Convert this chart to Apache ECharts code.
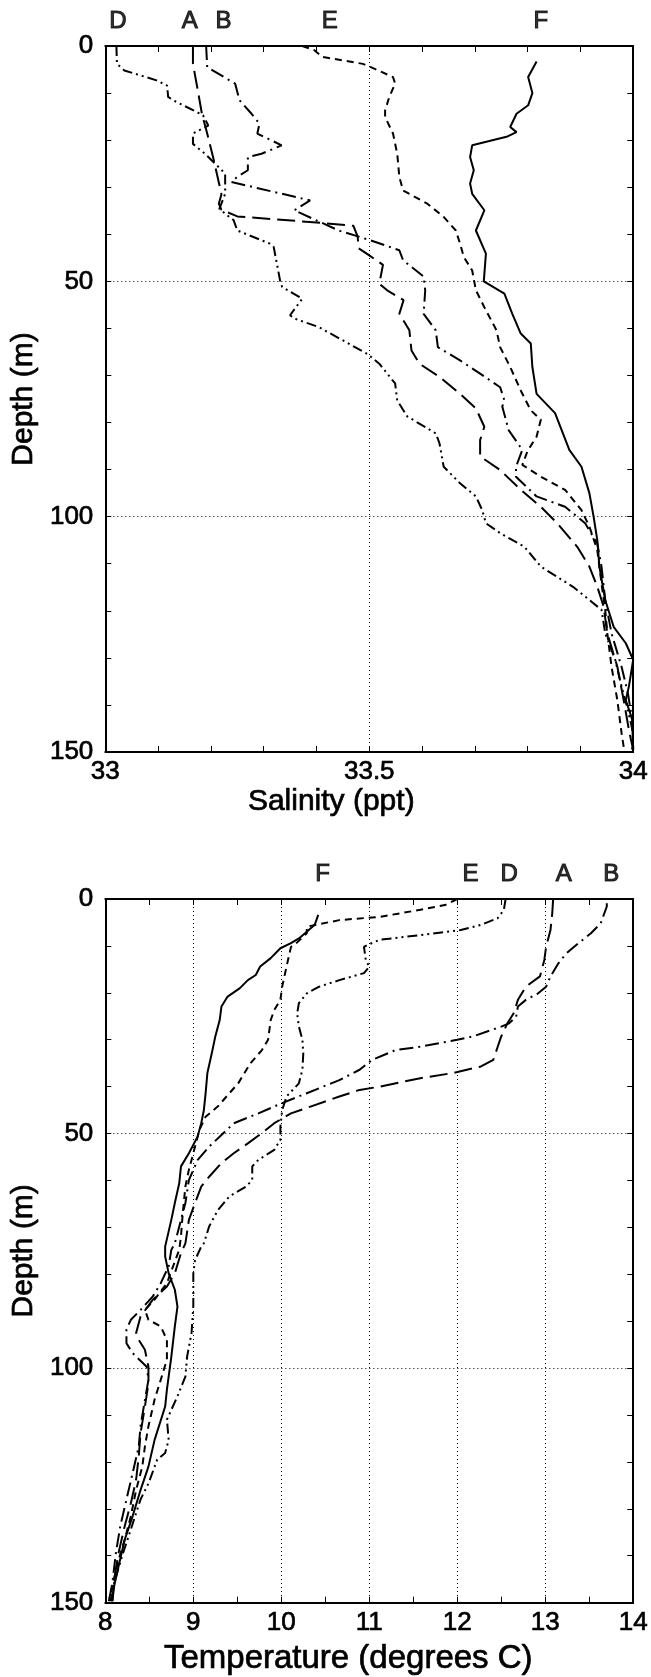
<!DOCTYPE html>
<html>
<head>
<meta charset="utf-8">
<script src="https://cdn.jsdelivr.net/npm/echarts@6/dist/echarts.min.js"></script>
<style>
  html, body { margin: 0; padding: 0; background: #fff; }
  #chart { width: 651px; height: 1677px; }
</style>
</head>
<body>
<div id="chart"></div>
<script>
// Station profiles: [value, depth in m]
const salinityA = [[33.166,0],[33.166,3.8],[33.174,8.7],[33.183,14.4],[33.193,18.6],[33.205,24],[33.215,29],[33.22,31.5],[33.215,33.5],[33.22,34.8],[33.25,36.2],[33.40,37.5],[33.47,38.2],[33.478,40.5],[33.48,43],[33.50,44.5],[33.526,46.5],[33.519,50.5],[33.534,51.9],[33.565,54],[33.557,56.9],[33.576,60.4],[33.58,64.7],[33.595,67.5],[33.633,70.3],[33.672,73.9],[33.702,77],[33.718,80.9],[33.71,83.7],[33.71,87.2],[33.748,90.1],[33.787,94.3],[33.825,97.9],[33.856,101.4],[33.894,106.4],[33.917,110.6],[33.932,114.9],[33.944,119.1],[33.951,124.8],[33.970,131.9],[33.982,139],[33.993,146],[34.0,149.5]];
const salinityB = [[33.191,0],[33.193,4.5],[33.246,8],[33.254,11.5],[33.277,14.4],[33.292,16.5],[33.288,18.6],[33.334,21.1],[33.296,22.9],[33.270,23.6],[33.270,26.4],[33.25,27.8],[33.239,28.9],[33.388,32.8],[33.358,34.9],[33.442,39.2],[33.503,41.3],[33.557,43.4],[33.564,45.5],[33.603,49],[33.606,51.9],[33.603,56.9],[33.626,60.4],[33.63,64],[33.672,66.8],[33.710,69.6],[33.748,72.5],[33.756,75.3],[33.752,76.6],[33.764,81.6],[33.79,85.8],[33.778,89.4],[33.778,91.5],[33.817,95.7],[33.871,97.9],[33.909,101.4],[33.932,105.7],[33.94,110.6],[33.947,117.7],[33.959,124.8],[33.978,131.9],[33.99,137.5],[33.998,143.2],[34.0,149.5]];
const salinityD = [[33.021,0],[33.022,3.8],[33.036,5.2],[33.097,7.3],[33.117,8.4],[33.119,10.8],[33.128,11.5],[33.185,14.7],[33.195,16.9],[33.166,18.6],[33.166,20.8],[33.189,22.9],[33.227,27.1],[33.227,31.4],[33.216,34.6],[33.227,35.6],[33.243,37],[33.25,39.2],[33.312,42],[33.319,42.7],[33.331,49.8],[33.335,51.2],[33.373,53.7],[33.35,57.2],[33.358,57.9],[33.404,59.7],[33.496,65.4],[33.519,67.5],[33.549,71.7],[33.553,75.3],[33.572,78.7],[33.626,82.3],[33.633,84.4],[33.641,89.4],[33.672,92.9],[33.702,95.7],[33.714,98.6],[33.721,101.4],[33.748,103.5],[33.794,106.4],[33.825,110.6],[33.886,114.9],[33.917,117.7],[33.94,119.8],[33.947,124.8],[33.966,130.4],[33.978,136.1],[33.99,141.1],[34.0,146],[33.998,149.5]];
const salinityE = [[33.373,0],[33.396,0.9],[33.411,2.3],[33.488,3.8],[33.503,4.5],[33.545,6.6],[33.549,8],[33.538,10.8],[33.530,13.7],[33.530,15.1],[33.545,18.6],[33.553,22.9],[33.557,27.8],[33.564,30.7],[33.610,33.5],[33.641,36.3],[33.664,39.2],[33.672,42],[33.679,44.8],[33.695,47.7],[33.702,51.9],[33.718,55.5],[33.741,60.4],[33.748,64],[33.767,68.2],[33.787,73.2],[33.806,77.4],[33.825,79.4],[33.817,83],[33.80,86],[33.79,89],[33.825,91.5],[33.871,94.3],[33.902,98.6],[33.917,102.1],[33.932,107.1],[33.94,114.2],[33.947,119.8],[33.951,124.8],[33.959,131.9],[33.970,139],[33.978,146],[33.982,148.9]];
const salinityF = [[33.817,3.3],[33.801,6.6],[33.809,10],[33.801,12.6],[33.779,14.4],[33.767,17.2],[33.779,18.3],[33.760,19.3],[33.695,21.1],[33.691,23.6],[33.698,26.4],[33.691,29.2],[33.695,31.4],[33.718,34.9],[33.702,39.2],[33.721,44.1],[33.717,50],[33.756,52.6],[33.771,56.9],[33.787,61.1],[33.806,63.2],[33.809,68.2],[33.817,73.9],[33.852,78],[33.879,85.8],[33.902,89.4],[33.917,95],[33.925,100],[33.932,105],[33.936,110.6],[33.947,117.7],[33.963,123.4],[33.986,126.9],[34.0,130.4],[33.992,136],[33.986,139],[33.998,143],[34.0,149.5]];

const temperatureA = [[13.09,0],[13.08,3.1],[13.06,6.6],[13.01,10.2],[12.99,13],[12.94,16.5],[12.78,18.7],[12.69,21.5],[12.64,24.4],[12.57,26.5],[12.50,29.3],[12.46,31.5],[12.41,34.3],[12.27,35.7],[11.95,37.1],[11.58,38.2],[11.12,40],[10.89,40.7],[10.66,42.1],[10.34,44.2],[10.11,45.7],[9.92,47.8],[9.78,49.9],[9.62,52.1],[9.46,54.2],[9.32,56.3],[9.18,59.2],[9.09,61.3],[9.02,64.8],[8.95,68.4],[8.91,73.4],[8.86,75.5],[8.79,79.8],[8.70,82.6],[8.54,85.4],[8.40,89],[8.35,92.5],[8.38,94],[8.45,96.1],[8.49,99.7],[8.49,103.3],[8.45,108.2],[8.40,113.9],[8.38,118.8],[8.35,123.8],[8.29,128.8],[8.22,133.7],[8.15,139.4],[8.10,145.1],[8.08,149.7]];
const temperatureB = [[13.70,0.9],[13.70,1.6],[13.63,5.2],[13.52,7.3],[13.38,9.4],[13.24,11.6],[13.15,13.7],[13.06,16.5],[13.01,18.7],[12.92,20.1],[12.78,21.5],[12.69,22.9],[12.67,25.1],[12.59,26.5],[12.50,27.2],[12.18,29.3],[12.0,30],[11.58,31.5],[11.30,32.2],[11.03,34.3],[10.89,36.4],[10.66,38.6],[10.29,41.4],[10.01,43.5],[9.74,45.7],[9.46,47.8],[9.32,50.3],[9.18,52.8],[9.05,55.6],[8.95,59.9],[8.91,64.8],[8.86,68.4],[8.79,73.4],[8.75,74.8],[8.72,78.3],[8.63,81.9],[8.54,84.7],[8.40,87.6],[8.29,89.7],[8.24,91.8],[8.24,94.7],[8.31,96.8],[8.47,99.7],[8.49,102.5],[8.45,106.8],[8.40,112.4],[8.38,116.7],[8.31,122.4],[8.24,128],[8.17,133.7],[8.12,139.4],[8.08,145.8],[8.04,149.7]];
const temperatureD = [[12.55,0],[12.53,2.3],[12.46,4.1],[12.27,5.5],[12.04,6.6],[11.58,7.7],[11.12,8.7],[10.98,9.8],[10.94,10.2],[10.96,13],[11.0,14.4],[10.94,15.8],[10.66,17.3],[10.43,18.7],[10.29,20.1],[10.2,22.2],[10.18,24.4],[10.2,27.2],[10.24,30],[10.25,32.9],[10.24,36.4],[10.2,39.3],[10.06,42.1],[10.01,45],[9.99,48.5],[9.99,51.3],[9.92,53.5],[9.74,55.6],[9.67,57],[9.67,59.9],[9.60,61.3],[9.41,63.4],[9.28,66.3],[9.18,69.8],[9.12,73.4],[9.09,74.1],[9.02,77],[9.0,79.8],[9.0,86.9],[8.98,92.5],[8.93,97.5],[8.91,101.8],[8.82,106],[8.70,111],[8.72,115.3],[8.68,118.1],[8.59,119.5],[8.49,124.6],[8.40,128],[8.35,130.9],[8.29,134.4],[8.19,140.1],[8.10,145.8],[8.06,149.7]];
const temperatureE = [[12.0,0],[11.86,1.3],[11.58,2.3],[11.12,3.8],[10.66,4.5],[10.29,5.9],[10.29,7.3],[10.15,9.8],[10.11,10.2],[10.06,14.4],[10.01,18.7],[9.99,21.5],[9.92,23.7],[9.88,25.8],[9.85,30],[9.78,32.2],[9.65,35],[9.51,39.3],[9.41,41.4],[9.28,44.2],[9.14,46.4],[9.07,49.2],[9.0,54.2],[8.95,57.7],[8.91,61.3],[8.88,67],[8.86,71.9],[8.84,74.8],[8.77,78.3],[8.70,81.9],[8.56,85.4],[8.45,87.6],[8.49,89.7],[8.63,91.1],[8.70,94],[8.70,98.2],[8.63,102.5],[8.56,106.7],[8.49,112.4],[8.45,116.7],[8.42,121],[8.35,126],[8.29,131.6],[8.22,136.6],[8.15,140.9],[8.08,146.5],[8.04,149.7]];
const temperatureF = [[10.42,3.4],[10.38,5.5],[10.29,7],[10.2,8.4],[10.11,9.4],[9.99,10.5],[9.88,12.6],[9.76,14.4],[9.71,16.2],[9.62,17.3],[9.53,19],[9.39,20.8],[9.32,22.9],[9.30,25.8],[9.25,29.3],[9.21,32.9],[9.16,37.1],[9.14,41.4],[9.12,45],[9.09,47.8],[9.05,50.6],[8.95,54.2],[8.86,57],[8.84,60.6],[8.79,64.8],[8.75,68.4],[8.68,74.1],[8.68,76.2],[8.72,79.8],[8.79,83.3],[8.82,86.9],[8.79,91.1],[8.75,97.6],[8.70,104.6],[8.68,108.2],[8.56,115.3],[8.49,121],[8.40,126],[8.31,131.6],[8.22,136.6],[8.15,142.3],[8.10,146.5],[8.08,149.7]];

// Station letters written above each panel, near the surface value of the profile
const stationNames = ['D', 'A', 'B', 'E', 'F'];
const salinityLabelAt = [33.024, 33.16, 33.224, 33.425, 33.825];
const tempStationNames = ['F', 'E', 'D', 'A', 'B'];
const temperatureLabelAt = [10.47, 12.15, 12.59, 13.21, 13.75];

const FONT = '"Liberation Sans", Arial, Helvetica, sans-serif';
// thin outline so the lettering reads as heavily as printed text
const INK = { color: '#000', textBorderColor: '#000', textBorderWidth: 0.7, fontFamily: FONT };
const styles = {
  A: { type: [18, 7] },
  B: { type: [14, 5, 2, 5] },
  D: { type: [10, 4, 2, 4, 2, 4] },
  E: { type: [7, 5] },
  F: { type: 'solid' }
};

function profile(name, data, xi, yi) {
  return {
    type: 'line', name: name, data: data,
    xAxisIndex: xi, yAxisIndex: yi,
    symbol: 'none', smooth: false, clip: true,
    lineStyle: { color: '#000', width: 2, type: styles[name].type },
    z: 3
  };
}
function letters(names, at, xi, yi) {
  return {
    type: 'scatter', xAxisIndex: xi, yAxisIndex: yi,
    symbol: 'circle', symbolSize: 1, silent: true, clip: false,
    itemStyle: { color: 'rgba(0,0,0,0)' },
    data: names.map((n, i) => [at[i], 0, n]),
    label: Object.assign({
      show: true, position: 'top', distance: 12,
      formatter: p => p.value[2], fontSize: 24, textBorderWidth: 1
    }, { color: '#000', textBorderColor: '#000', fontFamily: FONT }),
    z: 5
  };
}

const tickLabel = Object.assign({ fontSize: 26 }, INK);
const dotted = { show: true, lineStyle: { color: '#000', width: 1, type: [1, 3] } };
const frameLine = { show: true, onZero: false, lineStyle: { color: '#000', width: 2 } };

function bottomAxis(grid, min, max, interval, minorSplit, name, nameGap, nameSize, shiftLeft) {
  return {
    type: 'value', gridIndex: grid, position: 'bottom', min: min, max: max, interval: interval,
    name: name, nameLocation: 'middle', nameGap: nameGap,
    nameTextStyle: Object.assign({ fontSize: nameSize, padding: [0, shiftLeft * 2, 0, 0] }, INK),
    axisLine: frameLine,
    axisTick: { show: true, inside: true, length: 6, lineStyle: { color: '#000', width: 1 } },
    minorTick: { show: true, splitNumber: minorSplit, length: 6, lineStyle: { color: '#000', width: 1 } },
    axisLabel: Object.assign({ margin: 7 }, tickLabel),
    splitLine: dotted
  };
}
function topAxis(grid, min, max, interval, minorSplit) {
  return {
    type: 'value', gridIndex: grid, position: 'top', min: min, max: max, interval: interval,
    axisLine: frameLine,
    axisTick: { show: true, inside: true, length: 6, lineStyle: { color: '#000', width: 1 } },
    minorTick: { show: true, splitNumber: minorSplit, length: 6, lineStyle: { color: '#000', width: 1 } },
    axisLabel: { show: false }, splitLine: { show: false }
  };
}
function depthAxis(grid, left) {
  return {
    type: 'value', gridIndex: grid, position: left ? 'left' : 'right', inverse: true,
    min: 0, max: 150, interval: 50,
    name: left ? 'Depth (m)' : '', nameLocation: 'middle', nameGap: 50,
    nameTextStyle: Object.assign({ fontSize: 30 }, INK),
    axisLine: frameLine,
    axisTick: { show: true, inside: true, length: 6, lineStyle: { color: '#000', width: 1 } },
    minorTick: { show: true, splitNumber: 5, length: 6, lineStyle: { color: '#000', width: 1 } },
    axisLabel: left ? Object.assign({ margin: 12 }, tickLabel) : { show: false },
    splitLine: left ? dotted : { show: false }
  };
}

const chart = echarts.init(document.getElementById('chart'), null, { renderer: 'canvas' });
chart.setOption({
  backgroundColor: '#fff',
  animation: false,
  grid: [
    { left: 93, top: 46, width: 544, height: 706, containLabel: false },
    { left: 92, top: 899, width: 543, height: 704, containLabel: false }
  ],
  xAxis: [
    bottomAxis(0, 33, 34, 0.5, 5, 'Salinity (ppt)', 24, 30, 38),
    topAxis(0, 33, 34, 0.5, 5),
    bottomAxis(1, 8, 14, 1, 2, 'Temperature (degrees C)', 40, 33, 21),
    topAxis(1, 8, 14, 1, 2)
  ],
  yAxis: [
    depthAxis(0, true), depthAxis(0, false),
    depthAxis(1, true), depthAxis(1, false)
  ],
  series: [
    profile('A', salinityA, 0, 0),
    profile('B', salinityB, 0, 0),
    profile('D', salinityD, 0, 0),
    profile('E', salinityE, 0, 0),
    profile('F', salinityF, 0, 0),
    letters(stationNames, salinityLabelAt, 0, 0),
    profile('A', temperatureA, 2, 2),
    profile('B', temperatureB, 2, 2),
    profile('D', temperatureD, 2, 2),
    profile('E', temperatureE, 2, 2),
    profile('F', temperatureF, 2, 2),
    letters(tempStationNames, temperatureLabelAt, 2, 2)
  ]
});
</script>
</body>
</html>
